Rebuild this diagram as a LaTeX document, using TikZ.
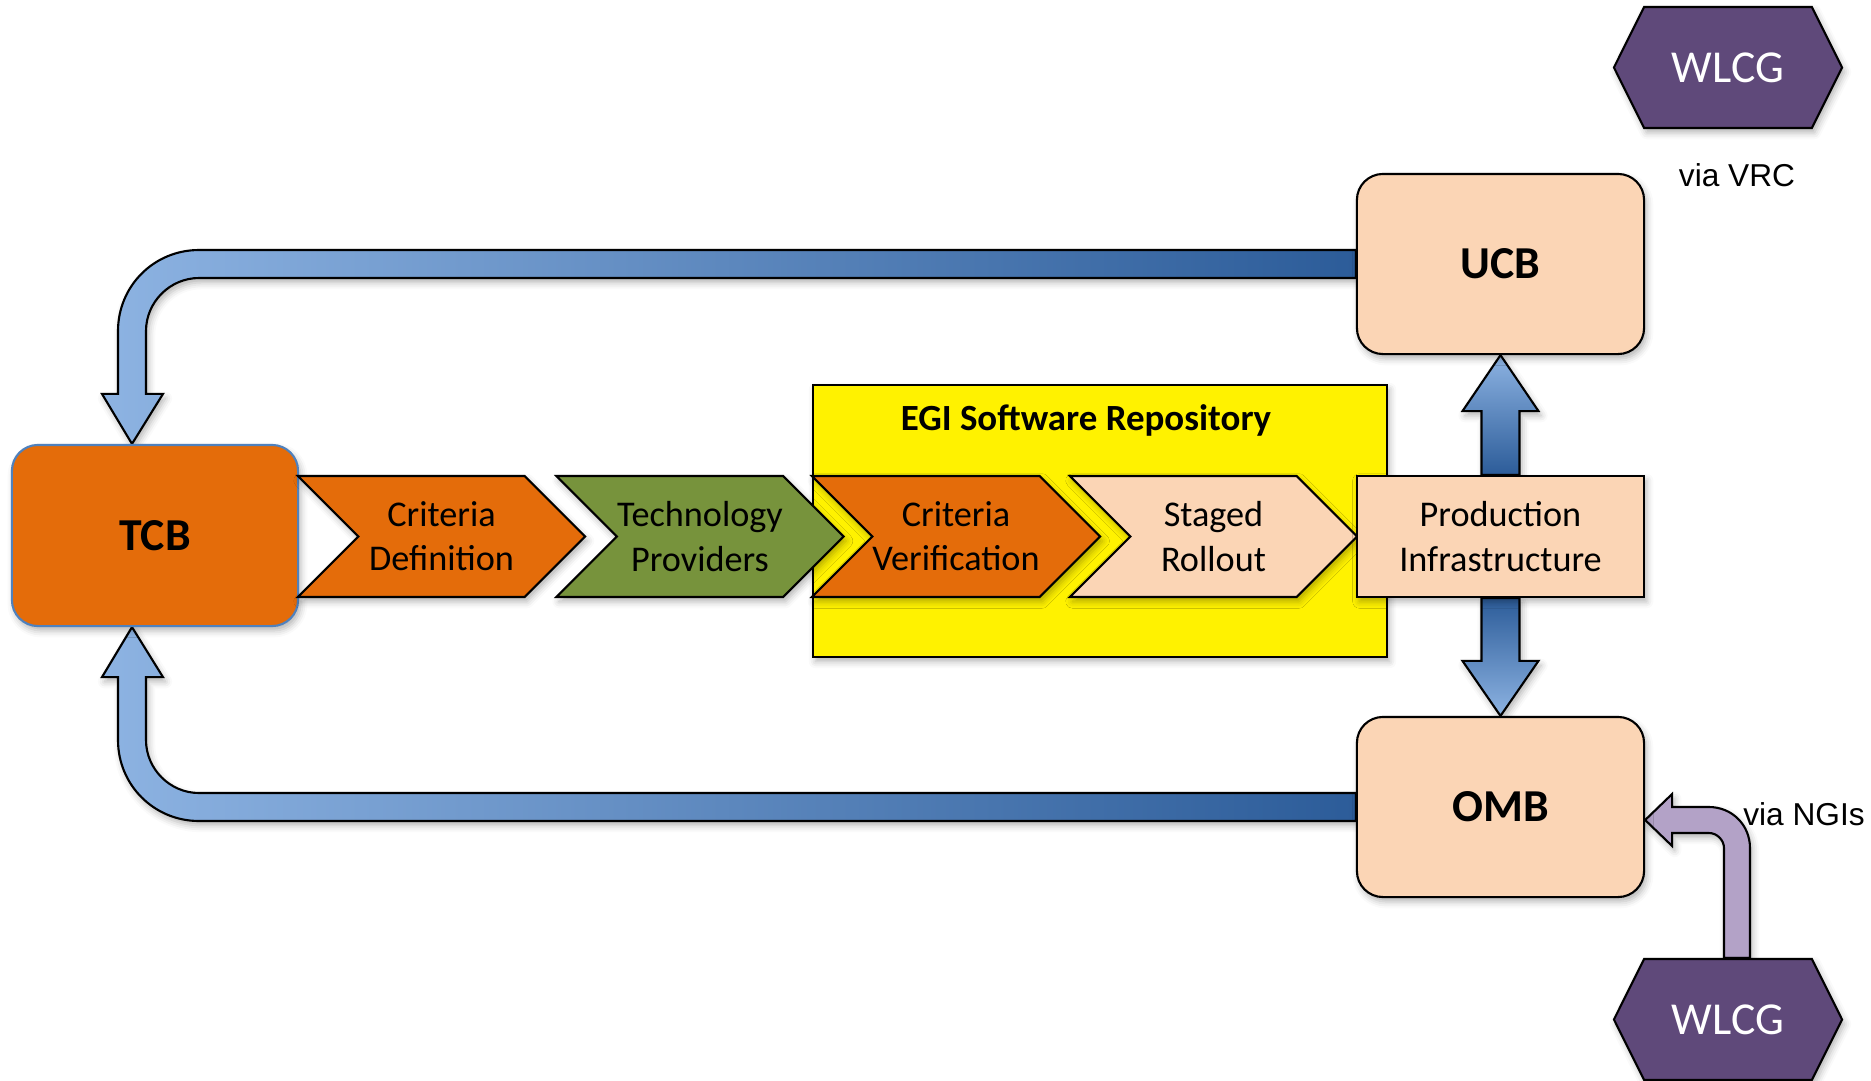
\documentclass[tikz,border=0pt]{standalone}
\usepackage{fontspec}
\setmainfont{Carlito}
\newfontfamily\arialfont{Liberation Sans}
\usetikzlibrary{shapes.symbols, calc, backgrounds, shadows.blur}

\definecolor{tcborange}{HTML}{E46C0A}
\definecolor{tcbline}{HTML}{4F81BD}
\definecolor{peach}{HTML}{FBD5B5}
\definecolor{chevgreen}{HTML}{77933C}
\definecolor{wlcgpurple}{HTML}{5F497A}
\definecolor{lilac}{HTML}{B3A2C7}
\definecolor{bluelight}{HTML}{8DB3E2}
\definecolor{bluemid}{HTML}{6A9ED8}
\definecolor{bluevert}{HTML}{4482C8}
\definecolor{bluedark}{HTML}{2C5C99}

\begin{document}
\begin{tikzpicture}[x=0.01cm, y=-0.01cm,
    every node/.style={align=center},
    softshadow/.style={blur shadow={shadow xshift=0.025cm, shadow yshift=-0.045cm, shadow opacity=30}},
    board/.style={draw=black, line width=0.6pt, fill=peach, rounded corners=0.26cm,
        minimum width=2.87cm, minimum height=1.8cm, font=\fontsize{13}{15}\selectfont\bfseries, softshadow},
    tcbbox/.style={board, draw=tcbline, fill=tcborange, minimum width=2.86cm, minimum height=1.81cm},
    prodbox/.style={draw=black, line width=0.6pt, fill=peach, minimum width=2.87cm, minimum height=1.21cm,
        inner sep=0pt, font=\fontsize{10.3}{12.6}\selectfont, softshadow},
    chevron/.style={signal, signal from=west, signal to=east, signal pointer angle=90,
        draw=black, line width=0.6pt, minimum width=2.87cm, minimum height=1.21cm,
        inner sep=0pt, font=\fontsize{10.3}{12.6}\selectfont, softshadow},
    wlcg/.style={signal, signal to=west and east, signal pointer angle=127, draw=black, line width=0.6pt,
        fill=wlcgpurple, text=white, minimum width=2.28cm, minimum height=1.21cm,
        inner sep=0pt, font=\fontsize{13}{15}\selectfont, softshadow},
    via/.style={font=\arialfont\fontsize{9}{11}\selectfont},
    blockarrow/.style={draw=black, line width=0.6pt, softshadow}
]
\useasboundingbox (0,0) rectangle (1871,1081);

% boards
\node[tcbbox] (tcb) at (155,535.5) {TCB};
\node[board] (ucb) at (1500.5,264) {UCB};
\node[board] (omb) at (1500.5,807) {OMB};

% release chain
\node[chevron, fill=tcborange] (critdef) at (441.5,536.5) {Criteria\\Definition};
\node[chevron, fill=chevgreen] (techprov) at (700,536.5) {Technology\\Providers};
\node[chevron, fill=tcborange] (critver) at (956,536.5) {Criteria\\Verification};
\node[chevron, fill=peach] (staged) at (1213.5,536.5) {Staged\\Rollout};
\node[prodbox] (prod) at (1500.5,536.5) {Production\\Infrastructure};
\node[font=\fontsize{10.5}{12.6}\selectfont\bfseries] (repotitle) at (1086,420) {EGI Software Repository};

% WLCG
\node[wlcg] (wlcgtop) at (1728,67.5) {WLCG};
\node[wlcg] (wlcgbot) at (1728,1019.5) {WLCG};
\node[via] (vrc) at (1737,175) {via VRC};
\node[via] (ngis) at (1804,814) {via NGIs};

\begin{scope}[on background layer]
\draw[fill=yellow, line width=0.6pt, softshadow] (813,385) rectangle (1387,657);

% UCB -> TCB
\coordinate (tcbin) at ($(tcb.north)+(-23,0)$);
\coordinate (topbend) at (tcbin |- ucb.west);
\path[blockarrow, left color=bluelight, middle color=bluemid, right color=bluedark]
  ($(ucb.west)+(0,-14)$) -- ($(topbend)+(67,-14)$)
  .. controls ($(topbend)+(22,-14)$) and ($(topbend)+(-14,22)$) .. ($(topbend)+(-14,67)$)
  -- ($(tcbin)+(-14,-50)$) -- ($(tcbin)+(-30,-50)$) -- (tcbin) -- ($(tcbin)+(31,-50)$) -- ($(tcbin)+(14,-50)$)
  -- ($(topbend)+(14,67)$)
  .. controls ($(topbend)+(14,38)$) and ($(topbend)+(38,14)$) .. ($(topbend)+(67,14)$)
  -- ($(ucb.west)+(0,14)$) -- cycle;

% OMB -> TCB
\coordinate (tcbout) at ($(tcb.south)+(-23,0)$);
\coordinate (lowbend) at (tcbout |- omb.west);
\path[blockarrow, left color=bluelight, middle color=bluemid, right color=bluedark]
  ($(omb.west)+(0,14)$) -- ($(lowbend)+(67,14)$)
  .. controls ($(lowbend)+(22,14)$) and ($(lowbend)+(-14,-22)$) .. ($(lowbend)+(-14,-67)$)
  -- ($(tcbout)+(-14,50)$) -- ($(tcbout)+(-30,50)$) -- (tcbout) -- ($(tcbout)+(31,50)$) -- ($(tcbout)+(14,50)$)
  -- ($(lowbend)+(14,-67)$)
  .. controls ($(lowbend)+(14,-38)$) and ($(lowbend)+(38,-14)$) .. ($(lowbend)+(67,-14)$)
  -- ($(omb.west)+(0,-14)$) -- cycle;

% Production -> UCB, Production -> OMB
\path[blockarrow, top color=bluelight, middle color=bluevert, bottom color=bluedark]
  ($(prod.north)+(-19,0)$) -- ($(ucb.south)+(-19,56)$) -- ($(ucb.south)+(-38,56)$) -- (ucb.south)
  -- ($(ucb.south)+(38,56)$) -- ($(ucb.south)+(19,56)$) -- ($(prod.north)+(19,0)$) -- cycle;
\path[blockarrow, top color=bluedark, middle color=bluevert, bottom color=bluelight]
  ($(prod.south)+(-19,0)$) -- ($(omb.north)+(-19,-55)$) -- ($(omb.north)+(-38,-55)$) -- (omb.north)
  -- ($(omb.north)+(38,-55)$) -- ($(omb.north)+(19,-55)$) -- ($(prod.south)+(19,0)$) -- cycle;

% WLCG -> OMB
\coordinate (ngitip) at ($(omb.east)+(0,13)$);
\coordinate (ngifoot) at ($(wlcgbot.north)+(9,0)$);
\coordinate (ngibend) at (ngifoot |- ngitip);
\path[blockarrow, fill=lilac]
  ($(ngifoot)+(-13,0)$) -- ($(ngibend)+(-13,28)$)
  .. controls ($(ngibend)+(-13,20)$) and ($(ngibend)+(-20,13)$) .. ($(ngibend)+(-28,13)$)
  -- ($(ngitip)+(27,13)$) -- ($(ngitip)+(27,26)$) -- (ngitip) -- ($(ngitip)+(27,-26)$) -- ($(ngitip)+(27,-13)$)
  -- ($(ngibend)+(-28,-13)$)
  .. controls ($(ngibend)+(-5,-13)$) and ($(ngibend)+(13,5)$) .. ($(ngibend)+(13,28)$)
  -- ($(ngifoot)+(13,0)$) -- cycle;
\end{scope}

\end{tikzpicture}
\end{document}
